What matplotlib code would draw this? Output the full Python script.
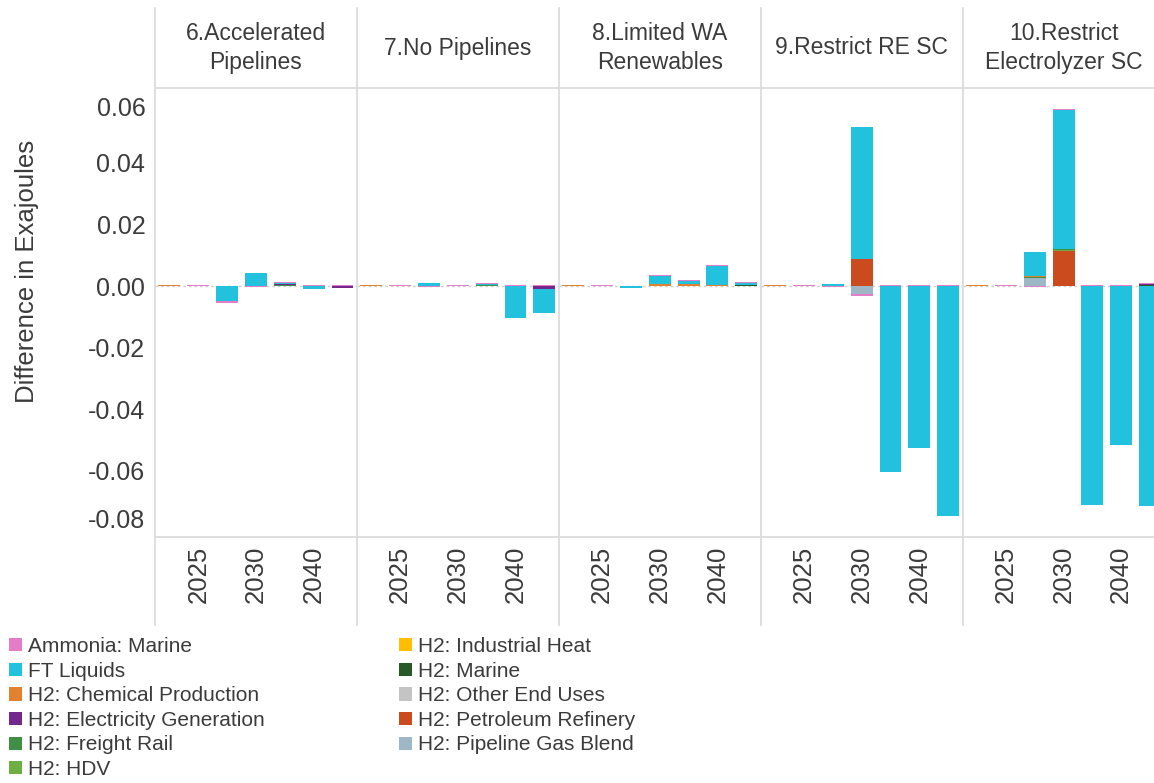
import matplotlib
matplotlib.use("Agg")
import matplotlib.pyplot as plt
import matplotlib.transforms as mtransforms
from matplotlib.patches import Patch
from matplotlib.lines import Line2D
import numpy as np

plt.rcParams['font.family'] = ['Liberation Sans', 'DejaVu Sans']

# ---------------- data ----------------
years = ["2022", "2025", "2027", "2030", "2035", "2040", "2050"]
year_labels = ["", "2025", "", "2030", "", "2040", ""]
scenarios = ["6.Accelerated\nPipelines", "7.No Pipelines", "8.Limited WA\nRenewables",
             "9.Restrict RE SC", "10.Restrict\nElectrolyzer SC"]
categories = ["Ammonia: Marine", "FT Liquids", "H2: Chemical Production",
              "H2: Electricity Generation", "H2: Freight Rail", "H2: HDV",
              "H2: Industrial Heat", "H2: Marine", "H2: Other End Uses",
              "H2: Petroleum Refinery", "H2: Pipeline Gas Blend"]
colors = ["#E47CC8", "#22C1DE", "#E2822F", "#74288E", "#3F8F45", "#6DAF41",
          "#FFBF00", "#285A28", "#C4C4C4", "#CC4B1E", "#9DB7C4"]
ytick_values = [0.06, 0.04, 0.02, 0.0, -0.02, -0.04, -0.06, -0.08]
ytick_labels = ["0.06", "0.04", "0.02", "0.00", "-0.02", "-0.04", "-0.06", "-0.08"]

# rows: scenarios 6..10, columns: years
ammonia_marine = [
    [0, 0.0004, -0.0004, -0.0003, 0.0002, 0.0002, 0.0004],
    [0, 0.0004, -0.0003, 0.0004, 0.0002, 0.0002, 0.0002],
    [0, 0.0004, 0.0001, 0.0002, 0.0002, 0.0002, 0.0002],
    [0, 0.0004, -0.0002, -0.0009, 0.0002, 0.0002, 0.0002],
    [0, 0.0004, -0.0003, 0.0005, 0.0002, 0.0002, 0.0004],
]
ft_liquids = [
    [0, 0, -0.0050, 0.0043, 0.0003, -0.0011, 0.0],
    [0, 0, 0.0009, 0.0, 0.0004, -0.0105, -0.0075],
    [0, 0, -0.0005, 0.0028, 0.0012, 0.0062, 0.0006],
    [0, 0, 0.0007, 0.0427, -0.0603, -0.0525, -0.0747],
    [0, 0, 0.0079, 0.0450, -0.0712, -0.0515, -0.0715],
]
h2_chemical = [
    [0.0004, 0, 0, 0, 0.0002, 0, 0],
    [0.0004, 0, 0, 0, 0.0002, 0, 0],
    [0.0004, 0, 0, 0.0005, 0.0005, 0.0004, 0.0002],
    [0.0004, 0, 0, 0, 0, 0, 0],
    [0.0004, 0, 0.0004, 0.0002, 0, 0, 0],
]
h2_electricity = [
    [0, 0, 0, 0, 0.0002, 0, -0.0008],
    [0, 0, 0, 0, 0, 0, -0.0011],
    [0, 0, 0, 0, 0, 0, 0],
    [0, 0, 0, 0, 0, 0, 0],
    [0, 0, 0, 0, 0, 0, 0.0004],
]
h2_freight_rail = [
    [0, 0, 0, 0, 0.0002, 0, 0],
    [0, 0, 0, 0, 0.0002, 0, 0],
    [0, 0, 0, 0, 0, 0, 0],
    [0, 0, 0, 0, 0, 0, 0],
    [0, 0, 0.0003, 0.0003, 0, 0, 0],
]
h2_hdv = [
    [0, 0, 0, 0, 0.0001, 0, 0],
    [0, 0, 0, 0, 0, 0, 0],
    [0, 0, 0, 0, 0, 0, 0],
    [0, 0, 0, 0, 0, 0, 0],
    [0, 0, 0, 0.0002, 0, 0, 0],
]
h2_industrial_heat = [[0] * 7 for _ in range(5)]
h2_marine = [
    [0, 0, 0, 0, 0, 0, 0],
    [0, 0, 0, 0, 0, 0, 0],
    [0, 0, 0, 0, 0, 0, 0.0002],
    [0, 0, 0, 0, 0, 0, 0],
    [0, 0, 0, 0, 0, 0, 0.0003],
]
h2_other_end_uses = [[0] * 7 for _ in range(5)]
h2_petroleum_refinery = [
    [0, 0, 0, 0, 0, 0, 0],
    [0, 0, 0, 0, 0, 0, 0],
    [0, 0, 0, 0, 0, 0, 0],
    [0, 0, 0, 0.0089, 0, 0, 0],
    [0, 0, 0, 0.0114, 0, 0, 0],
]
h2_pipeline_gas_blend = [
    [0, 0, 0, 0, 0, 0, 0],
    [0, 0, 0, 0, 0, 0, 0],
    [0, 0, 0, 0, 0, 0, 0],
    [0, 0, 0, -0.0025, 0, 0, 0],
    [0, 0, 0.0025, 0, 0, 0, 0],
]
series = [ammonia_marine, ft_liquids, h2_chemical, h2_electricity, h2_freight_rail,
          h2_hdv, h2_industrial_heat, h2_marine, h2_other_end_uses,
          h2_petroleum_refinery, h2_pipeline_gas_blend]

# ---------------- layout ----------------
W, H = 1154, 783
fig = plt.figure(figsize=(W / 100, H / 100), dpi=100)
fig.patch.set_facecolor("white")

def fx(px):
    return px / W

def fy(py):
    return 1 - py / H

text_color = "#3b3b3b"
grid_color = "#dcdcdc"
left0 = 155
panel_w = 201.9
plot_top, plot_bot = 88, 537
ylim = (-0.0815, 0.0643)
x = np.arange(len(years))

axes = []
for i, scen in enumerate(scenarios):
    l = left0 + i * panel_w
    ax = fig.add_axes([fx(l), fy(plot_bot), fx(panel_w), (plot_bot - plot_top) / H])
    axes.append(ax)
    ax.set_xlim(-0.5, len(years) - 0.5)
    ax.set_ylim(*ylim)
    for s in ax.spines.values():
        s.set_visible(False)
    ax.axhline(0, color="#cfcfcf", lw=1.0, ls=(0, (2, 2)), zorder=0)
    pos = np.zeros(len(years))
    neg = np.zeros(len(years))
    for k in reversed(range(len(categories))):
        vals = np.array(series[k][i], dtype=float)
        p = np.where(vals > 0, vals, 0)
        n = np.where(vals < 0, vals, 0)
        ax.bar(x, p, bottom=pos, width=0.76, color=colors[k], edgecolor="none", zorder=2)
        ax.bar(x, n, bottom=neg, width=0.76, color=colors[k], edgecolor="none", zorder=2)
        pos += p
        neg += n
    ax.set_xticks(x)
    ax.set_xticklabels(year_labels, rotation=90, fontsize=18.5, color=text_color)
    ax.tick_params(axis="x", length=0, pad=6)
    if i == 0:
        ax.set_yticks(ytick_values)
        ax.set_yticklabels(ytick_labels, fontsize=18, color=text_color)
        ax.tick_params(axis="y", length=0, pad=7)
        # edge labels are nudged inward as in the reference
        labs = ax.get_yticklabels()
        labs[0].set_transform(labs[0].get_transform() +
                              mtransforms.ScaledTranslation(0, -4 / 72, fig.dpi_scale_trans))
        labs[-1].set_transform(labs[-1].get_transform() +
                               mtransforms.ScaledTranslation(0, 10 / 72, fig.dpi_scale_trans))
    else:
        ax.set_yticks([])
    fig.text(fx(l + panel_w / 2), fy(48), scen, ha="center", va="center",
             fontsize=16.5, color=text_color, linespacing=1.3)

fig.text(fx(27), fy(271), "Difference in Exajoules", rotation=90, ha="center", va="center",
         fontsize=18.5, color=text_color)

# separators
for i in range(len(scenarios)):
    l = left0 + i * panel_w
    fig.add_artist(Line2D([fx(l), fx(l)], [fy(8), fy(625)], color=grid_color, lw=1.3))
for yy in (plot_top, plot_bot):
    fig.add_artist(Line2D([fx(left0), 1.0], [fy(yy), fy(yy)], color=grid_color, lw=1.3))

# legend
handles = [Patch(facecolor=c, edgecolor="none") for c in colors]
leg_kw = dict(frameon=False, fontsize=15, handlelength=0.6, handleheight=0.6,
              handletextpad=0.3, labelspacing=0.27, borderaxespad=0, borderpad=0,
              labelcolor=text_color)
fig.legend(handles[:6], categories[:6], loc="upper left",
           bbox_to_anchor=(fx(9), fy(637)), **leg_kw)
fig.legend(handles[6:], categories[6:], loc="upper left",
           bbox_to_anchor=(fx(399), fy(637)), **leg_kw)

fig.savefig("out.png", dpi=100, facecolor="white")
